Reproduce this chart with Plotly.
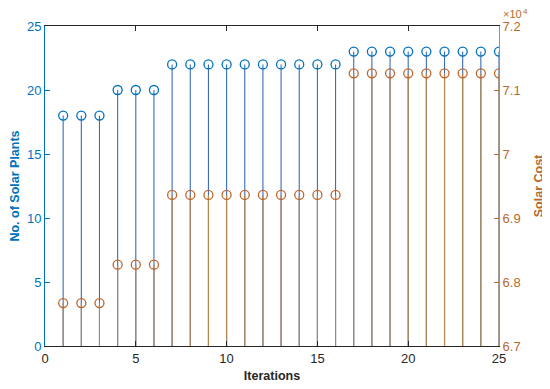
import plotly.graph_objects as go

iterations = list(range(1, 26))
solar_plants = [18, 18, 18, 20, 20, 20] + [22] * 10 + [23] * 9
solar_cost = [67670, 67670, 67670, 68270, 68270, 68270] + [69360] * 10 + [71260] * 9

left_ticks = [0, 5, 10, 15, 20, 25]
right_ticks = [67000, 68000, 69000, 70000, 71000, 72000]
right_labels = ["6.7", "6.8", "6.9", "7", "7.1", "7.2"]
x_ticks = [0, 5, 10, 15, 20, 25]

BLUE = "#0072BD"
ORANGE = "#C0652A"
STEM_BLUE = "#3A6DB8"
STEM_ORANGE = "#B8864E"
TXT_ORANGE = "#B96A2C"
FONT = "Liberation Sans, Arial, sans-serif"

left_base = 0
right_base = 67000


def stems(xs, ys, base):
    sx, sy = [], []
    for x, y in zip(xs, ys):
        sx += [x, x, None]
        sy += [base, y, None]
    return sx, sy


fig = go.Figure()
bx, by = stems(iterations, solar_plants, left_base)
fig.add_trace(go.Scatter(x=bx, y=by, mode="lines", line=dict(color=STEM_BLUE, width=1.1),
                         hoverinfo="skip", showlegend=False, yaxis="y"))
fig.add_trace(go.Scatter(x=iterations, y=solar_plants, mode="markers",
                         marker=dict(symbol="circle-open", size=9, color=BLUE, line=dict(width=1.3, color=BLUE)),
                         showlegend=False, yaxis="y"))
ox, oy = stems(iterations, solar_cost, right_base)
fig.add_trace(go.Scatter(x=ox, y=oy, mode="lines", line=dict(color=STEM_ORANGE, width=1.1),
                         hoverinfo="skip", showlegend=False, yaxis="y2"))
fig.add_trace(go.Scatter(x=iterations, y=solar_cost, mode="markers",
                         marker=dict(symbol="circle-open", size=9, color=ORANGE, line=dict(width=1.3, color="#B8682C")),
                         showlegend=False, yaxis="y2"))

fig.update_layout(
    template="none",
    width=550, height=389,
    margin=dict(l=37, r=59, t=18, b=51),
    paper_bgcolor="white", plot_bgcolor="white",
    font=dict(family=FONT, size=13, color="#262626"),
    xaxis=dict(range=[0, 25], tickvals=x_ticks, ticks="inside", ticklen=5, tickcolor="#262626",
               showline=True, linecolor="#262626", linewidth=1, mirror="ticks", automargin=False,
               showgrid=False, zeroline=False,
               title=dict(text="<b>Iterations</b>", font=dict(size=12.5, color="#262626"), standoff=6),
               tickfont=dict(size=13, color="#262626")),
    yaxis=dict(range=[0, 25], tickvals=left_ticks, ticks="inside", ticklen=5, tickcolor=BLUE,
               showline=True, linecolor=BLUE, linewidth=1, showgrid=False, zeroline=False, automargin=False,
               tickfont=dict(size=13, color=BLUE),
               title=dict(text="<b>No. of Solar Plants</b>", font=dict(size=12.5, color=BLUE), standoff=8)),
    yaxis2=dict(range=[67000, 72000], tickvals=right_ticks, ticktext=right_labels, overlaying="y", side="right",
                ticks="inside", ticklen=5, tickcolor=TXT_ORANGE, showline=True, linecolor="#C08850", linewidth=1,
                showgrid=False, zeroline=False, automargin=False, tickfont=dict(size=13, color=TXT_ORANGE),
                title=dict(text="<b>Solar Cost</b>", font=dict(size=12.5, color=TXT_ORANGE), standoff=14)),
    annotations=[
        dict(text="×10", xref="paper", yref="paper", x=1.0, y=1.0, xanchor="left", yanchor="bottom",
             showarrow=False, font=dict(size=11, color=TXT_ORANGE), borderpad=0, xshift=3, yshift=5),
        dict(text="4", xref="paper", yref="paper", x=1.0, y=1.0, xanchor="left", yanchor="bottom",
             showarrow=False, font=dict(size=8, color=TXT_ORANGE), borderpad=0, xshift=23, yshift=9),
    ],
)

fig.write_html("out.html")
